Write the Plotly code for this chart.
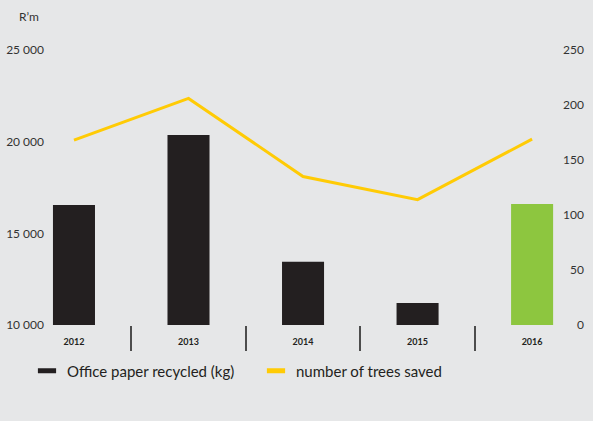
import plotly.graph_objects as go

years = ["2012", "2013", "2014", "2015", "2016"]
paper_kg = [16550, 20360, 13450, 11200, 16600]
trees_saved = [168, 206, 135, 114, 169]
bar_colors = ["#231f20", "#231f20", "#231f20", "#231f20", "#8dc63f"]
legend_names = ["Office paper recycled (kg)", "number of trees saved"]
legend_colors = ["#231f20", "#ffcb05"]

BG = "#e6e7e8"
W, H = 593, 421
ML, MR, MT, MB = 45, 5, 50, 96
paper_w = W - ML - MR
x_dom = [0, (555 - ML) / paper_w]
x_rng = [-0.253, 4.2]

fig = go.Figure()
fig.add_trace(go.Bar(x=years, y=paper_kg, marker=dict(color=bar_colors, line_width=0),
                     width=0.367, showlegend=False, xaxis="x", yaxis="y"))
fig.add_trace(go.Scatter(x=years, y=trees_saved, mode="lines",
                         line=dict(color="#ffcb05", width=3), showlegend=False,
                         xaxis="x2", yaxis="y2"))
for name, col in zip(legend_names, legend_colors):
    fig.add_trace(go.Scatter(x=[None], y=[None], mode="markers", name=name,
                             marker=dict(symbol="line-ew", size=13, color=col,
                                         line=dict(color=col, width=6))))

font_fam = "Lato, 'Open Sans', sans-serif"
fig.update_layout(
    width=W, height=H,
    margin=dict(l=ML, r=MR, t=MT, b=MB),
    paper_bgcolor=BG, plot_bgcolor=BG,
    separators=". ",
    font=dict(family=font_fam, color="#333333"),
    xaxis=dict(domain=x_dom, range=x_rng, type="category",
               showgrid=False, showline=False, zeroline=False,
               ticks="", ticklabelstandoff=10,
               tickfont=dict(size=9, color="#231f20", weight="bold")),
    xaxis2=dict(domain=x_dom, range=x_rng, type="category", overlaying="x",
                anchor="y", side="bottom",
                showgrid=False, showline=False, zeroline=False,
                ticks="outside", tickson="boundaries", ticklen=25, tickwidth=1.5,
                tickcolor="#4d4d4d", showticklabels=False),
    yaxis=dict(range=[10000, 25000], dtick=5000, tickformat=",d",
               showgrid=False, zeroline=False, showline=False,
               tickfont=dict(size=12, color="#333333")),
    yaxis2=dict(range=[0, 250], dtick=50, overlaying="y", side="left",
                anchor="free", position=(584 - ML) / paper_w,
                showgrid=False, zeroline=False, showline=False,
                tickfont=dict(size=12, color="#333333")),
    legend=dict(orientation="h", x=(27 - ML) / paper_w, xanchor="left",
                y=(MT + 275 - 371) / 275, yanchor="middle",
                font=dict(size=15, color="#231f20"), entrywidth=184,
                bgcolor="rgba(0,0,0,0)"),
    annotations=[dict(text="R’m", xref="paper", yref="paper",
                      x=(29 - ML) / paper_w, y=(MT + 275 - 17) / 275,
                      showarrow=False, xanchor="center", yanchor="middle",
                      font=dict(size=12, color="#333333"))],
)
fig.write_html("out.html", config={"displayModeBar": False},
               post_script="document.body.style.margin='0px';")
